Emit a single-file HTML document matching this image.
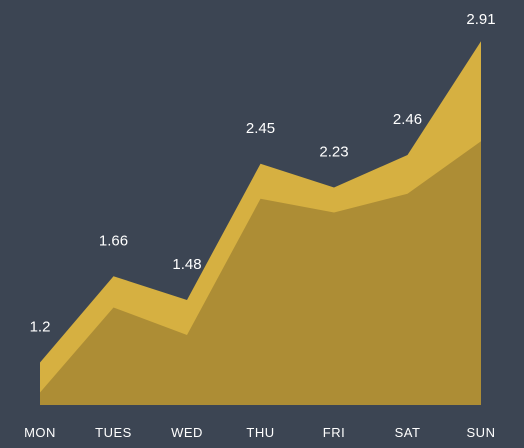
<!DOCTYPE html>
<html><head><meta charset="utf-8"><style>
html,body{margin:0;padding:0;background:#3c4553;}
svg{display:block;font-family:"Liberation Sans","DejaVu Sans",sans-serif;}
</style></head><body>
<svg width="524" height="448" viewBox="0 0 524 448">
<rect width="524" height="448" fill="#3c4553"/>
<g id="areas"></g><g id="labels"></g><g id="xlabels"></g>
</svg>
<script>
const categories = ["MON","TUES","WED","THU","FRI","SAT","SUN"];
const valueLabels = ["1.2","1.66","1.48","2.45","2.23","2.46","2.91"];
const topSeries = [0.34,1.03,0.84,1.93,1.74,2.00,2.91];
const bottomSeries = [0.10,0.78,0.56,1.65,1.54,1.69,2.11];
const NS="http://www.w3.org/2000/svg";
const x0=40,x1=481,base=405,pxPerUnit=125;
function xs(i){return x0+i*(x1-x0)/(categories.length-1);}
function ys(v){return base-v*pxPerUnit;}
function area(series,color,name){
  let d="M"+xs(0)+","+base;
  series.forEach((v,i)=>{d+=" L"+xs(i)+","+ys(v);});
  d+=" L"+xs(series.length-1)+","+base+" Z";
  const p=document.createElementNS(NS,"path");
  p.setAttribute("d",d);p.setAttribute("fill",color);
  
  
  document.getElementById("areas").appendChild(p);
}
area(topSeries,"#d6b041","area-total");
area(bottomSeries,"#ad8d35","area-base");
valueLabels.forEach((t,i)=>{
  const e=document.createElementNS(NS,"text");
  e.setAttribute("x",xs(i));e.setAttribute("y",Math.max(24,ys(topSeries[i])-31));
  e.setAttribute("text-anchor","middle");e.setAttribute("fill","#ffffff");
  e.setAttribute("font-size","15");
  e.textContent=t;
  
  
  document.getElementById("labels").appendChild(e);
});
categories.forEach((c,i)=>{
  const e=document.createElementNS(NS,"text");
  e.setAttribute("x",xs(i));e.setAttribute("y",437);
  e.setAttribute("text-anchor","middle");e.setAttribute("fill","#ffffff");
  e.setAttribute("font-size","13");
  e.setAttribute("letter-spacing","0.5");
  e.textContent=c;
  
  
  document.getElementById("xlabels").appendChild(e);
});
</script>
</body></html>
